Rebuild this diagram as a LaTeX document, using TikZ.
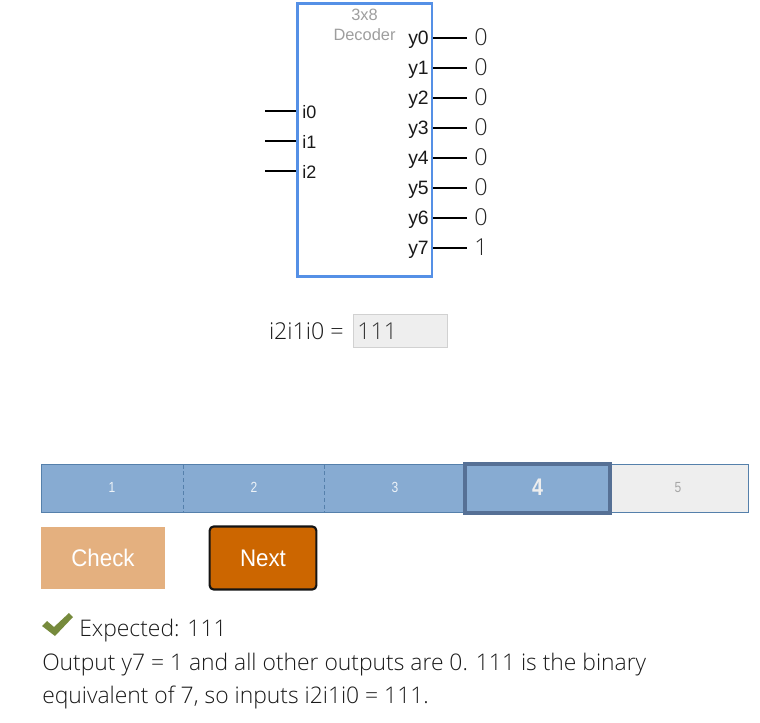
\documentclass[tikz,border=0pt]{standalone}
\usepackage{fontspec}
\setmainfont{Open Sans}[UprightFont=* Light]
\newfontfamily\labelfont{Liberation Sans}
\newfontfamily\barfont{Liberation Sans}[FakeStretch=0.82]
\newfontfamily\btnfont{Liberation Sans}[FakeStretch=0.93]

\definecolor{boxblue}{HTML}{5590E6}
\definecolor{barblue}{HTML}{87ABD2}
\definecolor{barline}{HTML}{5580AB}
\definecolor{barhigh}{HTML}{567095}
\definecolor{bargray}{HTML}{EEEEEE}
\definecolor{checkfill}{HTML}{E4B07F}
\definecolor{nextfill}{HTML}{CC6600}
\definecolor{tickfill}{HTML}{768A3C}

\begin{document}
\begin{tikzpicture}[x=0.75pt,y=-0.75pt]
\tikzset{pin/.style={coordinate}}
\tikzset{wire/.style={black,line width=1.9pt}}
\tikzset{portl/.style={inner sep=0pt,anchor=west,font=\labelfont\fontsize{13.5}{16}\selectfont,text=black!90}}
\tikzset{portr/.style={inner sep=0pt,anchor=east,font=\labelfont\fontsize{14.5}{16}\selectfont,text=black!90}}
\tikzset{val/.style={inner sep=0pt,font=\fontsize{17.5}{20}\selectfont,text=black!85}}
\tikzset{seg/.style={minimum height=35.25pt,inner sep=0pt,anchor=west,fill=barblue}}
\tikzset{segnum/.style={inner sep=0pt,font=\barfont\fontsize{11}{12}\selectfont,text=white!85!barblue}}
\tikzset{para/.style={inner sep=0pt,anchor=base west,font=\fontsize{17.15}{20}\selectfont,text=black!90}}
\useasboundingbox (0,0) rectangle (760,723);

% decoder
\path (364.5,140) node[draw=boxblue,line width=2pt,minimum width=101pt,minimum height=205pt,inner sep=0pt] (dec) {};
\path (364.5,15) node[inner sep=0pt,font=\labelfont\fontsize{12.3}{14}\selectfont,text=black!38] (t3x8) {3x8};
\path (364.5,34.5) node[inner sep=0pt,font=\labelfont\fontsize{12.3}{14}\selectfont,text=black!38] (tdec) {Decoder};

\path (265,111) node[pin] (a0) {};
\path (265,141) node[pin] (a1) {};
\path (265,171) node[pin] (a2) {};
\path (296,111) node[pin] (i0p) {};
\path (296,141) node[pin] (i1p) {};
\path (296,171) node[pin] (i2p) {};
\draw[wire] (a0) -- (i0p);
\draw[wire] (a1) -- (i1p);
\draw[wire] (a2) -- (i2p);
\path (302,112) node[portl] (i0) {i0};
\path (302,142) node[portl] (i1) {i1};
\path (302,172) node[portl] (i2) {i2};

\path (429,40) node[portr] (y0) {y0};
\path (429,70) node[portr] (y1) {y1};
\path (429,100) node[portr] (y2) {y2};
\path (429,130) node[portr] (y3) {y3};
\path (429,160) node[portr] (y4) {y4};
\path (429,190) node[portr] (y5) {y5};
\path (429,220) node[portr] (y6) {y6};
\path (429,250) node[portr] (y7) {y7};

\path (433,38) node[pin] (b0) {};
\path (433,68) node[pin] (b1) {};
\path (433,98) node[pin] (b2) {};
\path (433,128) node[pin] (b3) {};
\path (433,158) node[pin] (b4) {};
\path (433,188) node[pin] (b5) {};
\path (433,218) node[pin] (b6) {};
\path (433,248) node[pin] (b7) {};
\path (467,38) node[pin] (c0) {};
\path (467,68) node[pin] (c1) {};
\path (467,98) node[pin] (c2) {};
\path (467,128) node[pin] (c3) {};
\path (467,158) node[pin] (c4) {};
\path (467,188) node[pin] (c5) {};
\path (467,218) node[pin] (c6) {};
\path (467,248) node[pin] (c7) {};
\draw[wire] (b0) -- (c0);
\draw[wire] (b1) -- (c1);
\draw[wire] (b2) -- (c2);
\draw[wire] (b3) -- (c3);
\draw[wire] (b4) -- (c4);
\draw[wire] (b5) -- (c5);
\draw[wire] (b6) -- (c6);
\draw[wire] (b7) -- (c7);
\path (481,37.5) node[val] (v0) {0};
\path (481,67.5) node[val] (v1) {0};
\path (481,97.5) node[val] (v2) {0};
\path (481,127.5) node[val] (v3) {0};
\path (481,157.5) node[val] (v4) {0};
\path (481,187.5) node[val] (v5) {0};
\path (481,217.5) node[val] (v6) {0};
\path (481,247.5) node[val] (v7) {1};

% answer
\path (344,331.5) node[inner sep=0pt,anchor=east,font=\fontsize{17.4}{20}\selectfont,text=black!90] (eqn) {i2i1i0 =};
\path (400.5,331) node[draw=black!18,fill=bargray,line width=0.75pt,minimum width=70.5pt,minimum height=24.5pt,inner sep=0pt] (ans) {};
\path (357,331.5) node[inner sep=0pt,anchor=west,font=\fontsize{17.4}{20}\selectfont,text=black!80] (anstxt) {111};

% progress bar
\path (41,488.5) node[seg,minimum width=106.5pt] (s1) {};
\path (183,488.5) node[seg,minimum width=105.75pt] (s2) {};
\path (324,488.5) node[seg,minimum width=105.75pt] (s3) {};
\path (465,488.5) node[seg,minimum width=109.5pt] (s4) {};
\path (610,488.5) node[seg,minimum width=103.5pt,fill=bargray] (s5) {};
\draw[barline,line width=0.75pt] (s1.north west) rectangle (s5.south east);
\draw[barline,line width=0.6pt,densely dashed] (s1.north east) -- (s1.south east);
\draw[barline,line width=0.6pt,densely dashed] (s2.north east) -- (s2.south east);
\path (537.5,488.5) node[draw=barhigh,line width=3pt,minimum width=109pt,minimum height=37.25pt,inner sep=0pt] (cur) {};
\path (112,487.5) node[segnum] (n1) {1};
\path (254,487.5) node[segnum] (n2) {2};
\path (395,487.5) node[segnum] (n3) {3};
\path (537.5,487.5) node[inner sep=0pt,font=\barfont\bfseries\fontsize{18}{20}\selectfont,text=bargray] (n4) {4};
\path (678,487.5) node[segnum,text=black!35] (n5) {5};

% buttons
\path (103,558) node[minimum width=93pt,minimum height=46.5pt,fill=checkfill,inner sep=0pt,font=\btnfont\fontsize{18}{20}\selectfont,text=white] (check) {Check};
\path (263,558) node[draw=black!92,fill=nextfill,line width=1.6pt,rounded corners=3pt,minimum width=80pt,minimum height=47.25pt,inner sep=0pt,font=\btnfont\fontsize{18}{20}\selectfont,text=white] (next) {Next};

% explanation
\fill[tickfill] (42,626) -- (47,621) -- (54,627) -- (69,613) -- (73,617) -- (55,636) -- cycle;
\path (79,636.5) node[para] (exp) {Expected: 111};
\path (42,670) node[para] (l1) {Output y7 = 1 and all other outputs are 0. 111 is the binary};
\path (42,703) node[para] (l2) {equivalent of 7, so inputs i2i1i0 = 111.};
\end{tikzpicture}
\end{document}
